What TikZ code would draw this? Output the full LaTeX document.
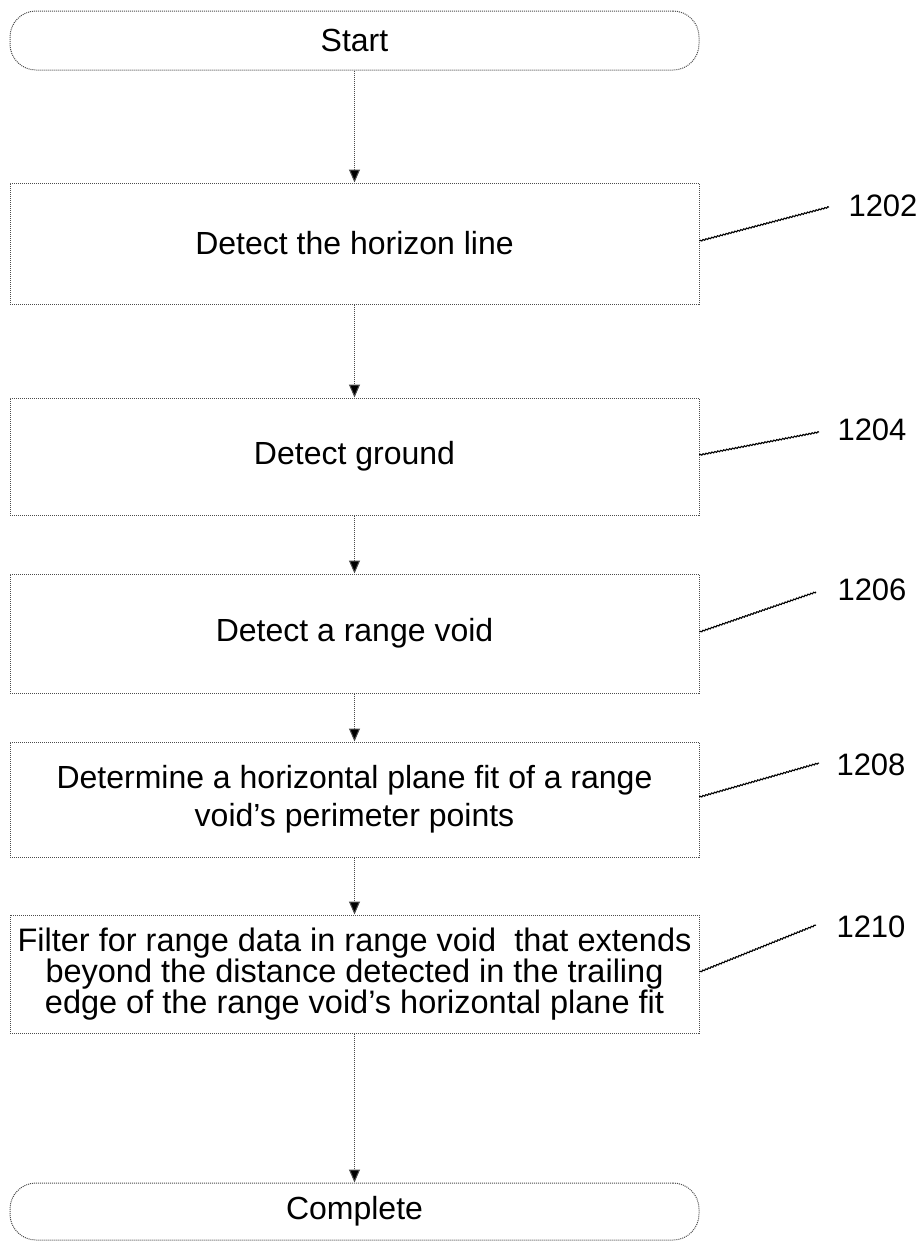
\documentclass[tikz,border=0pt]{standalone}
\usepackage{fontspec}
\setmainfont{Liberation Sans}
\usetikzlibrary{arrows.meta,decorations.pathmorphing}
\begin{document}
\begin{tikzpicture}[x=1pt,y=-1pt,
  box/.style={draw=black!70, densely dotted, line width=1pt, minimum width=689pt, inner sep=0pt, align=center, text=black, font=\fontsize{32}{28}\selectfont},
  term/.style={box, rounded corners=26pt},
  flow/.style={draw=black!70, densely dotted, line width=1pt, -{Triangle[width=11pt,length=13pt,fill=black]}},
  lead/.style={draw=black, line width=1.1pt, decorate, decoration={zigzag, amplitude=0.6pt, segment length=3pt}},
  refnum/.style={inner sep=0pt, text=black, font=\fontsize{31}{31}\selectfont}]
\useasboundingbox (0,0) rectangle (921,1243);
\node[term, minimum height=59pt] (start) at (354.5,40.5) {Start};
\node[box, minimum height=121pt] (b1) at (354.5,243.5) {Detect the horizon line};
\node[box, minimum height=117pt] (b2) at (354.5,456.5) {Detect ground};
\node[box, minimum height=119pt] (b3) at (354.5,633.5) {Detect a range void};
\node[box, minimum height=115pt, font=\fontsize{32}{38}\selectfont] (b4) at (354.5,799.5) {Determine a horizontal plane fit of a range\\void’s perimeter points};
\node[box, minimum height=118pt, font=\fontsize{32.5}{28}\selectfont] (b5) at (354.5,974) {Filter for range data in range void\ \ that extends\\beyond the distance detected in the trailing\\edge of the range void’s horizontal plane fit};
\node[term, minimum height=57pt] (end) at (354.5,1211.5) {Complete};

\draw[flow] (start) -- (b1);
\draw[flow] (b1) -- (b2);
\draw[flow] (b2) -- (b3);
\draw[flow] (b3) -- (b4);
\draw[flow] (b4) -- (b5);
\draw[flow] (b5) -- (end);

\node[refnum] (r1) at (883,206) {1202};
\node[refnum] (r2) at (872,430) {1204};
\node[refnum] (r3) at (872,590) {1206};
\node[refnum] (r4) at (871,765) {1208};
\node[refnum] (r5) at (871,927) {1210};

\coordinate (s1) at (b1.east |- 0,241);
\coordinate (e1) at (829,207);
\coordinate (s2) at (b2.east |- 0,455);
\coordinate (e2) at (819,432);
\coordinate (s3) at (b3.east |- 0,632);
\coordinate (e3) at (816,592);
\coordinate (s4) at (b4.east |- 0,797);
\coordinate (e4) at (819,763);
\coordinate (s5) at (b5.east |- 0,972);
\coordinate (e5) at (816,925);
\draw[lead] (s1) -- (e1);
\draw[lead] (s2) -- (e2);
\draw[lead] (s3) -- (e3);
\draw[lead] (s4) -- (e4);
\draw[lead] (s5) -- (e5);
\end{tikzpicture}
\end{document}
